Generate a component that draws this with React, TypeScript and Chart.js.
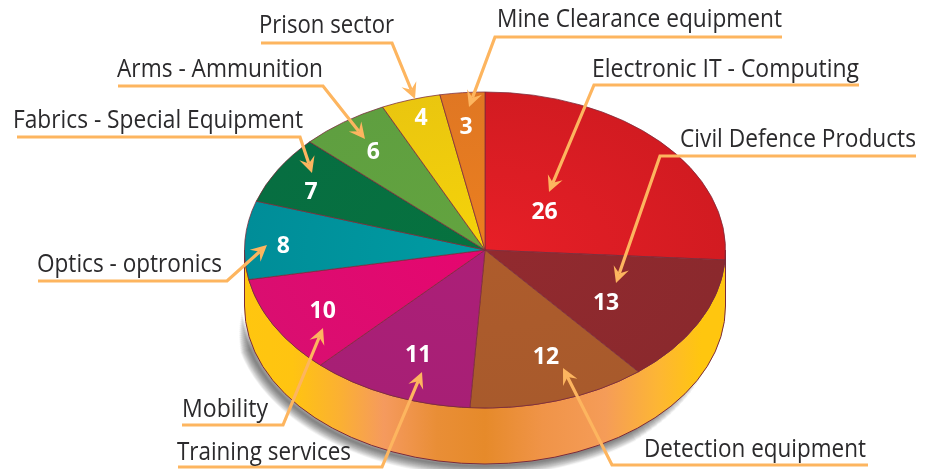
import React, { useEffect, useRef } from "react";
import { Chart, registerables } from "chart.js";

Chart.register(...registerables);

// Data
const categories = [
  "Electronic IT - Computing",
  "Civil Defence Products",
  "Detection equipment",
  "Training services",
  "Mobility",
  "Optics - optronics",
  "Fabrics - Special Equipment",
  "Arms - Ammunition",
  "Prison sector",
  "Mine Clearance equipment",
];
const values = [26, 13, 12, 11, 10, 8, 7, 6, 4, 3];
const innerColors = ["#E71F27", "#922A2F", "#AE5C2C", "#AC1F78", "#E6066F", "#009CA3", "#06723F", "#63A43F", "#F5D30A", "#EB7F1F"];
const outerColors = ["#D21B21", "#8B292D", "#A85A2C", "#A71F75", "#DA0E70", "#008D98", "#076E41", "#5F9F40", "#EAC60F", "#E07723"];

// Layout: pie ellipse and callouts (annotation geometry, not data)
const RY = 158;
const RX = 240.5;
const DEPTH = 56;
const valueFractions: [number, number][] = [
  [0.34, 0.37], [0.565, 0.72], [0.82, 0.7], [0.7, 0.71], [0.77, 0.78],
  [0.84, 0.6], [0.84, 0.74], [0.79, 0.78], [0.86, 0.89], [0.84, 0.79],
];
// text x-start, x-end, baseline, then polyline from the far end of the underline to the arrow tip
const callouts: { x0: number; x1: number; base: number; path: [number, number][] }[] = [
  { x0: 592, x1: 859, base: 77, path: [[859, 85], [594, 85], [549, 192]] },
  { x0: 680, x1: 916, base: 147, path: [[916, 156], [660, 156], [616, 283]] },
  { x0: 644, x1: 866, base: 457, path: [[868, 465], [612, 465], [563, 368]] },
  { x0: 177, x1: 351, base: 460, path: [[178, 467], [382, 467], [422, 372]] },
  { x0: 182, x1: 268, base: 417, path: [[182, 425], [283, 425], [323, 328]] },
  { x0: 37, x1: 222, base: 272, path: [[38, 281], [227, 281], [267, 245]] },
  { x0: 13, x1: 303, base: 128, path: [[17, 137], [300, 137], [312, 173]] },
  { x0: 117, x1: 323, base: 77, path: [[118, 86], [323, 86], [365, 139]] },
  { x0: 259, x1: 394, base: 33, path: [[261, 43], [392, 43], [415, 99]] },
  { x0: 497, x1: 782, base: 27, path: [[782, 37], [495, 37], [469, 107]] },
];

const wallStops: [number, string][] = [
  [0, "#FFC60F"], [0.1, "#FFC411"], [0.2, "#FBB033"], [0.29, "#F59A5E"],
  [0.4, "#E98E36"], [0.5, "#E68A2A"], [0.62, "#F09448"], [0.75, "#F59C58"],
  [0.86, "#FDB634"], [0.95, "#FFC60F"], [1, "#FFC60F"],
];

function wallPath(ctx: CanvasRenderingContext2D, cx: number, cy: number) {
  ctx.beginPath();
  ctx.ellipse(cx, cy, RX, RY, 0, Math.PI, 0, true);
  ctx.lineTo(cx + RX, cy + DEPTH);
  ctx.ellipse(cx, cy + DEPTH, RX, RY, 0, 0, Math.PI, false);
  ctx.closePath();
}

const pie3d = {
  id: "pie3d",
  beforeDatasetsDraw(chart: any) {
    const ctx: CanvasRenderingContext2D = chart.ctx;
    const a = chart.chartArea;
    const cx = (a.left + a.right) / 2;
    const cy = (a.top + a.bottom) / 2;
    // soft shadow under the drum: stacked translucent arcs that taper at both ends
    ctx.save();
    ctx.lineCap = "butt";
    ctx.strokeStyle = "rgba(0,0,0,0.035)";
    for (let w = 1; w <= 20; w++) {
      ctx.lineWidth = w;
      ctx.beginPath();
      ctx.ellipse(cx - 3, cy + DEPTH + 2, RX, RY, 0, 0.3 + w * 0.03, Math.PI - 0.02 - w * 0.012, false);
      ctx.stroke();
    }
    ctx.restore();
    // side wall
    ctx.save();
    wallPath(ctx, cx, cy);
    const g = ctx.createLinearGradient(cx - RX, 0, cx + RX, 0);
    wallStops.forEach(([o, c]) => g.addColorStop(o, c));
    ctx.fillStyle = g;
    ctx.fill();
    ctx.strokeStyle = "#7A2A3A";
    ctx.lineWidth = 1;
    ctx.stroke();
    ctx.restore();
    // flatten the library's circular pie to an ellipse
    ctx.save();
    ctx.translate(cx, cy);
    ctx.scale(RX / RY, 1);
    ctx.translate(-cx, -cy);
  },
  afterDatasetsDraw(chart: any) {
    const ctx: CanvasRenderingContext2D = chart.ctx;
    ctx.restore();
    const meta = chart.getDatasetMeta(0);
    const a = chart.chartArea;
    const cx = (a.left + a.right) / 2;
    const cy = (a.top + a.bottom) / 2;

    // callout lines
    ctx.save();
    ctx.strokeStyle = "#FDB55F";
    ctx.fillStyle = "#FDB55F";
    ctx.lineWidth = 3.2;
    ctx.lineJoin = "miter";
    callouts.forEach((c) => {
      const p = c.path;
      const [tx, ty] = p[p.length - 1];
      const [px, py] = p[p.length - 2];
      const len = Math.hypot(tx - px, ty - py);
      const ux = (tx - px) / len;
      const uy = (ty - py) / len;
      ctx.beginPath();
      ctx.moveTo(p[0][0], p[0][1]);
      for (let i = 1; i < p.length - 1; i++) ctx.lineTo(p[i][0], p[i][1]);
      ctx.lineTo(tx - ux * 10, ty - uy * 10);
      ctx.stroke();
      ctx.beginPath();
      ctx.moveTo(tx, ty);
      ctx.lineTo(tx - ux * 16 - uy * 8, ty - uy * 16 + ux * 8);
      ctx.lineTo(tx - ux * 10, ty - uy * 10);
      ctx.lineTo(tx - ux * 16 + uy * 8, ty - uy * 16 - ux * 8);
      ctx.closePath();
      ctx.fill();
    });
    ctx.restore();

    // category labels
    ctx.save();
    ctx.fillStyle = "#2B2A2C";
    ctx.font = '26px "Open Sans", sans-serif';
    ctx.textAlign = "left";
    ctx.textBaseline = "alphabetic";
    categories.forEach((name, i) => {
      const c = callouts[i];
      ctx.fillText(name, c.x0, c.base, c.x1 - c.x0);
    });
    ctx.restore();

    // value labels, placed from the arcs' own angles
    ctx.save();
    ctx.fillStyle = "#FFFFFF";
    ctx.font = 'bold 23px "Open Sans", sans-serif';
    ctx.textAlign = "center";
    ctx.textBaseline = "middle";
    meta.data.forEach((arc: any, i: number) => {
      const mid = (arc.startAngle + arc.endAngle) / 2;
      const [fx, fy] = valueFractions[i];
      const x = cx + Math.cos(mid) * RX * fx;
      const y = cy + Math.sin(mid) * RY * fy;
      ctx.fillText(String(values[i]), x, y + 2);
    });
    ctx.restore();
  },
};

export default function App() {
  const ref = useRef<HTMLCanvasElement>(null);
  useEffect(() => {
    document.body.style.margin = "0";
    const chart = new Chart(ref.current!, {
      type: "pie",
      data: {
        labels: categories,
        datasets: [
          {
            data: values,
            clip: false,
            radius: RY,
            backgroundColor: (c: any) => {
              const i = c.dataIndex;
              const a = c.chart.chartArea;
              if (!a || i === undefined) return innerColors[i ?? 0];
              const cx = (a.left + a.right) / 2;
              const cy = (a.top + a.bottom) / 2;
              const g = c.chart.ctx.createRadialGradient(cx, cy, 0, cx, cy, RY);
              g.addColorStop(0, innerColors[i]);
              g.addColorStop(1, outerColors[i]);
              return g;
            },
            borderColor: "#7A2A3A",
            borderWidth: 0.6,
            borderAlign: "center",
            hoverOffset: 0,
          } as any,
        ],
      },
      options: {
        animation: false,
        responsive: false,
        maintainAspectRatio: false,
        layout: { padding: { left: 38, top: 31, right: 0, bottom: 0 } },
        plugins: { legend: { display: false }, tooltip: { enabled: false } },
      },
      plugins: [pie3d],
    });
    return () => chart.destroy();
  }, []);
  return (
    <canvas
      ref={ref}
      width={932}
      height={469}
      style={{ position: "fixed", left: 0, top: 0, display: "block", width: 932, height: 469 }}
    />
  );
}
